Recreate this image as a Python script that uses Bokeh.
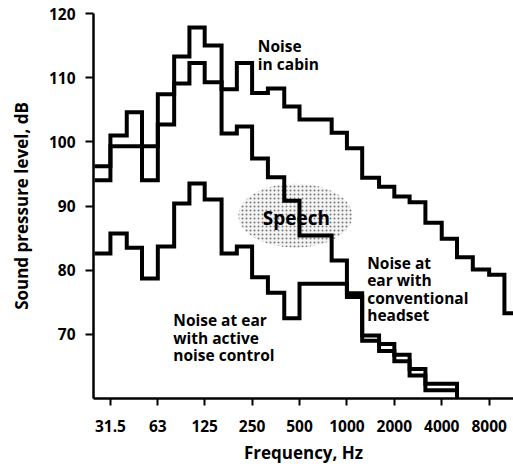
from bokeh.plotting import figure
from bokeh.models import Label, FixedTicker, ColumnDataSource
from bokeh.embed import file_html
from bokeh.resources import INLINE
from bokeh.core.properties import value

# third-octave band edges (Hz)
band_edges_hz = [25, 31.5, 40, 50, 63, 80, 100, 125, 160, 200, 250, 315, 400, 500,
                 630, 800, 1000, 1250, 1600, 2000, 2500, 3150, 4000, 5000, 6300,
                 8000, 10000, 12500]

# band levels (dB)
cabin_db = [96.2, 101.0, 104.6, 99.3, 107.4, 113.3, 117.8, 115.0, 108.2, 112.3,
            107.6, 108.3, 105.5, 103.5, 103.5, 101.4, 99.0, 94.4, 93.0, 91.5,
            90.6, 87.4, 84.9, 82.0, 80.1, 79.3, 73.3]
conventional_db = [94.0, 99.3, 99.3, 94.0, 102.7, 109.1, 112.3, 109.3, 101.3, 102.4,
                   97.4, 94.5, 90.8, 85.4, 85.4, 81.5, 76.4, 69.8, 68.5, 66.8,
                   64.6, 62.3, 62.3]
active_db = [82.6, 85.7, 83.5, 78.7, 83.7, 90.4, 93.5, 91.0, 82.6, 83.7,
             78.9, 76.5, 72.5, 77.9, 77.9, 77.9, 75.8, 69.0, 67.4, 65.8,
             63.6, 61.3, 61.3]

x_ticks = [31.5, 63, 125, 250, 500, 1000, 2000, 4000, 8000]
x_tick_labels = ["31.5", "63", "125", "250", "500", "1000", "2000", "4000", "8000"]
y_ticks = [70, 80, 90, 100, 110, 120]

x_min, x_max = 24.6, 11420
y_min, y_max = 60, 120

# annotations (frequency Hz, level dB)
note_texts = ["Noise\nin cabin", "Noise at\near with\nconventional\nheadset",
              "Noise at ear\nwith active\nnoise control"]
note_hz = [272, 1345, 79]
note_db = [116.6, 82.9, 73.9]
speech_hz, speech_db = 471, 88.5
speech_text_hz, speech_text_db = 478, 88.2

FONT = "Open Sans"


def step_path(values, drop_to=None):
    xs, ys = [], []
    for i, v in enumerate(values):
        xs += [band_edges_hz[i], band_edges_hz[i + 1]]
        ys += [v, v]
    if drop_to is not None:
        xs.append(band_edges_hz[len(values)])
        ys.append(drop_to)
    return xs, ys


p = figure(width=513, height=466, x_axis_type="log",
           x_range=(x_min, x_max), y_range=(y_min, y_max),
           output_backend="svg", toolbar_location=None, title=None,
           min_border_left=93, min_border_right=0, min_border_top=13,
           min_border_bottom=68)
p.xgrid.visible = False
p.ygrid.visible = False
p.outline_line_color = None
p.background_fill_color = "white"

# speech region
p.ellipse(x=[speech_hz], y=[speech_db], width=114, height=64,
          width_units="screen", height_units="screen",
          fill_color="#d9d9d9", fill_alpha=0.3, line_color=None,
          hatch_pattern=".", hatch_color="#777777", hatch_scale=4, hatch_weight=1)

for vals, drop in [(cabin_db, None), (conventional_db, y_min), (active_db, y_min)]:
    xs, ys = step_path(vals, drop)
    p.line(xs, ys, line_color="black", line_width=4, line_join="miter")

src = ColumnDataSource(dict(x=note_hz, y=note_db, t=note_texts))
p.text(x="x", y="y", text="t", source=src, text_font=value(FONT),
       text_font_style="bold", text_font_size="15.5px", text_color="black",
       text_align="left", text_baseline="top", text_line_height=0.8)

p.add_layout(Label(x=speech_text_hz, y=speech_text_db, text="Speech",
                   text_font=FONT, text_font_style="bold", text_font_size="19px",
                   text_align="center", text_baseline="middle", text_color="black"))

p.xaxis.ticker = FixedTicker(ticks=x_ticks)
p.xaxis.major_label_overrides = {t: l for t, l in zip(x_ticks, x_tick_labels)}
p.yaxis.ticker = FixedTicker(ticks=y_ticks)

for ax in (p.xaxis, p.yaxis):
    ax.axis_line_color = "black"
    ax.axis_line_width = 2.5
    ax.major_tick_line_color = "black"
    ax.major_tick_line_width = 2
    ax.major_tick_in = 0
    ax.minor_tick_line_color = None
    ax.major_label_text_font = FONT
    ax.major_label_text_font_style = "bold"
    ax.major_label_text_font_size = "15.5px"
    ax.major_label_text_color = "black"
    ax.axis_label_text_font = FONT
    ax.axis_label_text_font_style = "bold"
    ax.axis_label_text_font_size = "17px"
    ax.axis_label_text_color = "black"

p.xaxis.major_tick_out = 7
p.xaxis.major_label_standoff = 14
p.xaxis.axis_label = "Frequency, Hz"
p.xaxis.axis_label_standoff = 6
p.xaxis.axis_label_text_line_height = 0.4

p.yaxis.major_tick_out = 8
p.yaxis.major_label_standoff = 10
p.yaxis.axis_label = "Sound pressure level, dB"
p.yaxis.axis_label_standoff = 13

open("out.html", "w").write(file_html(p, INLINE))
